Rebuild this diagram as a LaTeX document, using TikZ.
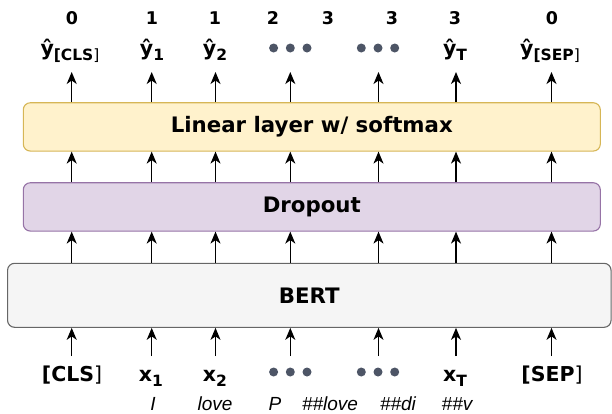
\documentclass[tikz,border=0pt]{standalone}
\usepackage{fontspec}
\setmainfont{DejaVu Sans}
\newfontfamily\wordfont{Liberation Sans}
\usetikzlibrary{arrows.meta}
\definecolor{linfill}{HTML}{FFF2CC}
\definecolor{lindraw}{HTML}{D6B656}
\definecolor{dropfill}{HTML}{E1D5E7}
\definecolor{dropdraw}{HTML}{9673A6}
\definecolor{bertfill}{HTML}{F5F5F5}
\definecolor{bertdraw}{HTML}{666666}
\definecolor{dotcol}{HTML}{4D5566}
\newcommand{\mylab}[2]{#1\raisebox{-5pt}{\fontsize{15.5}{17}\selectfont #2}}
\tikzset{
  layer/.style={draw, rounded corners=7pt, line width=1.1pt, inner sep=0pt,
    font=\bfseries\fontsize{21.3}{25}\selectfont},
  arr/.style={-{Stealth[length=12pt,width=10pt,inset=3.5pt]}, line width=1.4pt},
  num/.style={font=\bfseries\fontsize{17.5}{20}\selectfont, inner sep=0pt, anchor=base},
  lbl/.style={font=\bfseries\fontsize{20.5}{24}\selectfont, inner sep=0pt, anchor=base},
  wd/.style={font=\wordfont\itshape\fontsize{19}{22}\selectfont, inner sep=0pt, anchor=base},
  dotfill/.style={fill=dotcol}
}
\begin{document}
\begin{tikzpicture}[x=1pt,y=-1pt]
\useasboundingbox (0,0) rectangle (612,413);
% columns
\coordinate (c1) at (71.7,0);
\coordinate (c2) at (151.7,0);
\coordinate (c3) at (215.5,0);
\coordinate (c4) at (290.3,0);
\coordinate (c5) at (378.5,0);
\coordinate (c6) at (456,0);
\coordinate (c7) at (551.5,0);
\coordinate (tt) at (0,72);
\coordinate (bb) at (0,356);
% layers
\node[layer, fill=linfill, draw=lindraw, minimum width=577pt, minimum height=48.3pt]
  (lin) at (311.8,126.9) {Linear layer w/ softmax};
\node[layer, fill=dropfill, draw=dropdraw, minimum width=577pt, minimum height=48.3pt]
  (drop) at (311.8,206.9) {Dropout};
\node[layer, fill=bertfill, draw=bertdraw, minimum width=603.5pt, minimum height=64pt]
  (bert) at (309.3,295.3) {BERT};
% arrows
\foreach \c in {c1,c2,c3,c4,c5,c6,c7}{
  \draw[arr] (\c |- bb) -- (\c |- bert.south);
  \draw[arr] (\c |- bert.north) -- (\c |- drop.south);
  \draw[arr] (\c |- drop.north) -- (\c |- lin.south);
  \draw[arr] (\c |- lin.north) -- (\c |- tt);
}
% top numbers
\node[num] (n1) at (72,24) {0};
\node[num] (n2) at (152,24) {1};
\node[num] (n3) at (215,24) {1};
\node[num] (n4) at (273,24) {2};
\node[num] (n5) at (328,24) {3};
\node[num] (n6) at (392,24) {3};
\node[num] (n7) at (455,24) {3};
\node[num] (n8) at (552,24) {0};
% outputs
\node[lbl] (y1) at (70,55) {\mylab{ŷ}{[CLS\mdseries]}};
\node[lbl] (y2) at (152,55) {\mylab{ŷ}{1}};
\node[lbl] (y3) at (215,55) {\mylab{ŷ}{2}};
\node[lbl] (y6) at (455,55) {\mylab{ŷ}{T}};
\node[lbl] (y7) at (550,55) {\mylab{ŷ}{[SEP\mdseries]}};
\coordinate (y4) at (290.3,48);
\coordinate (y5) at (378,48);
% inputs
\node[lbl] (x1) at (72,381.5) {[CLS\mdseries]};
\node[lbl] (x2) at (151,381.5) {\mylab{x}{1}};
\node[lbl] (x3) at (215,381.5) {\mylab{x}{2}};
\node[lbl] (x6) at (455,381.5) {\mylab{x}{T}};
\node[lbl] (x7) at (552,381.5) {[SEP\mdseries]};
\coordinate (x4) at (290.3,372);
\coordinate (x5) at (378,372);
% dots
\foreach \d in {y4,y5,x4,x5}{
  \foreach \o in {-16.7,0,16.7}{
    \fill[dotfill] ([xshift=\o pt]\d) circle (4.5pt);
  }
}
% words
\node[wd] (w1) at (153,410) {I};
\node[wd] (w2) at (215,410) {love};
\node[wd] (w3) at (275,410) {P};
\node[wd] (w4) at (330,410) {\#\#love};
\node[wd] (w5) at (398,410) {\#\#di};
\node[wd] (w6) at (457,410) {\#\#v};
\end{tikzpicture}
\end{document}
